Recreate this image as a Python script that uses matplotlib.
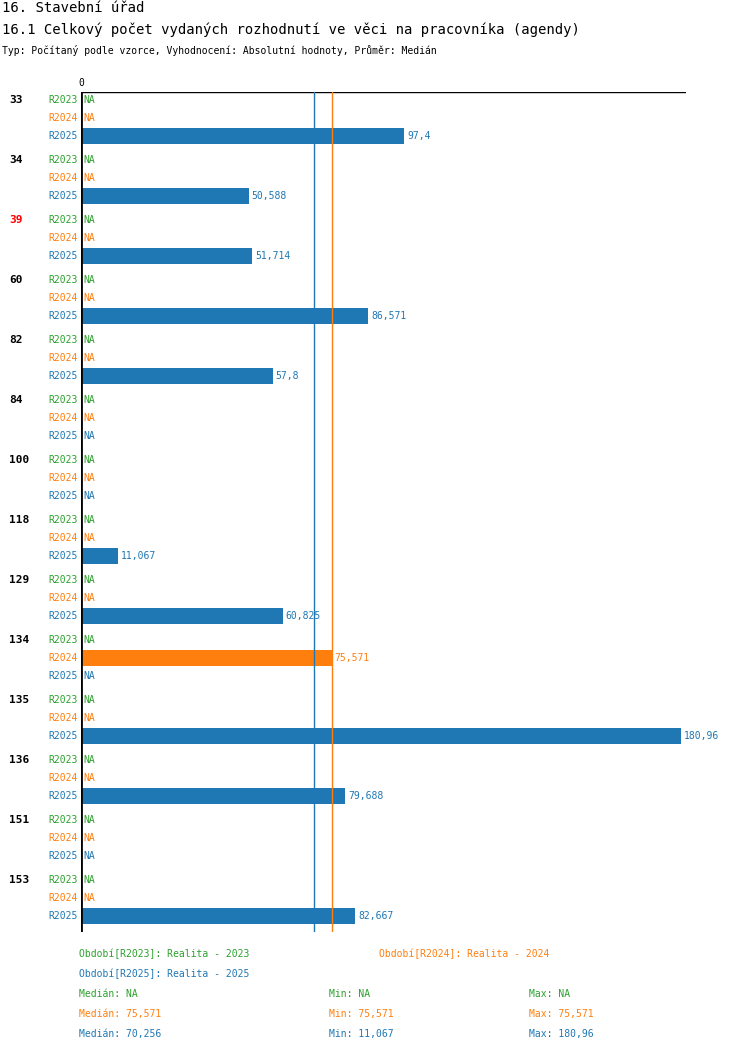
import numpy as np
import matplotlib.pyplot as plt

plt.rcParams['font.family'] = ['DejaVu Sans Mono']

groups = ['33', '34', '39', '60', '82', '84', '100', '118', '129', '134', '135', '136', '151', '153']
r2023 = [None] * 14
r2024 = [None, None, None, None, None, None, None, None, None, 75.571, None, None, None, None]
r2025 = [97.4, 50.588, 51.714, 86.571, 57.8, None, None, 11.067, 60.825, None, 180.96, 79.688, None, 82.667]
series = ['R2023', 'R2024', 'R2025']
colors = {'R2023': '#2ca02c', 'R2024': '#ff7f0e', 'R2025': '#1f77b4'}
median_2024 = 75.571
median_2025 = 70.256

W, H = 750, 1052
fig = plt.figure(figsize=(W / 100, H / 100), dpi=100)

# axes in pixel coords: left 81, right 686, top 92, bottom 932
x0, x1, y0, y1 = 81, 686, 92, 932
ax = fig.add_axes([x0 / W, 1 - y1 / H, (x1 - x0) / W, (y1 - y0) / H])
scale = 600 / 180.96
ax.set_xlim(0, (x1 - x0) / scale)
ax.set_ylim(y1, y0)
ax.axis('off')
ax.axhline(y0, color='black', lw=1)
ax.axvline(0, color='black', lw=2)
ax.text(0, y0 - 4, '0', fontsize=7, ha='center', va='bottom')
ax.axvline(median_2025, color=colors['R2025'], lw=1)
ax.axvline(median_2024, color=colors['R2024'], lw=1)

def fmt(v):
    s = ('%.3f' % v).rstrip('0').rstrip('.')
    return s.replace('.', ',')

data = {'R2023': r2023, 'R2024': r2024, 'R2025': r2025}
for gi, g in enumerate(groups):
    base = 100 + 60 * gi
    fig.text(9 / W, 1 - base / H, g, fontsize=8, fontweight='bold',
             color='red' if g == '39' else 'black', va='center')
    for si, s in enumerate(series):
        y = base + 18 * si
        if gi == 9 and si > 0:
            y = base + 18 * si  # same spacing
        c = colors[s]
        fig.text(78 / W, 1 - y / H, s, fontsize=7, color=c, ha='right', va='center')
        v = data[s][gi]
        if v is None:
            ax.text(2 / scale, y, 'NA', fontsize=7, color=c, va='center')
        else:
            ax.barh(y, v, height=16, color=c)
            ax.text(v + 3 / scale, y, fmt(v), fontsize=7, color=c, va='center')

def t(x, y, s, c='black', **kw):
    fig.text(x / W, 1 - y / H, s, color=c, va='center', **kw)

t(2, 8, '16. Stavební úřad', fontsize=10)
t(2, 30, '16.1 Celkový počet vydaných rozhodnutí ve věci na pracovníka (agendy)', fontsize=10)
t(2, 50, 'Typ: Počítaný podle vzorce, Vyhodnocení: Absolutní hodnoty, Průměr: Medián', fontsize=7)

t(79, 954, 'Období[R2023]: Realita - 2023', colors['R2023'], fontsize=7)
t(379, 954, 'Období[R2024]: Realita - 2024', colors['R2024'], fontsize=7)
t(79, 974, 'Období[R2025]: Realita - 2025', colors['R2025'], fontsize=7)
stats = [('R2023', 'NA', 'NA', 'NA'), ('R2024', '75,571', '75,571', '75,571'),
         ('R2025', '70,256', '11,067', '180,96')]
for i, (s, med, mn, mx) in enumerate(stats):
    y = 994 + 20 * i
    t(79, y, 'Medián: ' + med, colors[s], fontsize=7)
    t(329, y, 'Min: ' + mn, colors[s], fontsize=7)
    t(529, y, 'Max: ' + mx, colors[s], fontsize=7)

fig.savefig('out.png', dpi=100, facecolor='white')
